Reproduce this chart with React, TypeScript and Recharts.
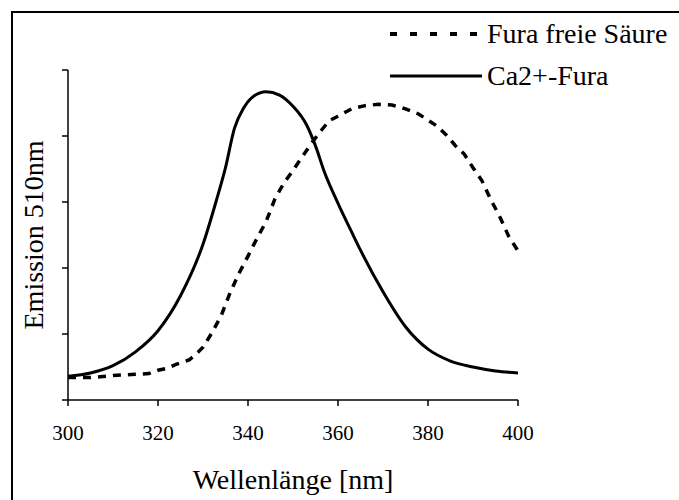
import React from 'react';
import { LineChart, Line, XAxis, YAxis, Legend, Label } from 'recharts';

// Ca2+-bound Fura (solid)
const caWavelengths = [300, 305, 310, 315, 320, 325, 330, 333, 335, 337, 339, 341, 344, 347, 350, 353, 355, 357, 360, 363, 365, 370, 375, 380, 385, 390, 395, 400];
const caEmission = [0.36, 0.41, 0.52, 0.73, 1.05, 1.58, 2.36, 3.03, 3.52, 4.12, 4.42, 4.59, 4.67, 4.62, 4.45, 4.17, 3.85, 3.45, 2.98, 2.55, 2.27, 1.64, 1.11, 0.77, 0.59, 0.5, 0.44, 0.41];

// free acid (dashed)
const freeWavelengths = [300, 305, 310, 315, 318, 320, 322, 324, 327, 329, 330, 332, 334, 336, 338, 340, 342, 344, 346, 348, 350, 352, 354, 356, 358, 360, 363, 366, 369, 372, 375, 378, 380, 382, 384, 386, 388, 390, 392, 394, 396, 398, 400];
const freeEmission = [0.34, 0.34, 0.37, 0.39, 0.4, 0.45, 0.48, 0.54, 0.61, 0.73, 0.8, 1.02, 1.27, 1.62, 1.92, 2.18, 2.45, 2.7, 3.05, 3.29, 3.48, 3.68, 3.88, 4.06, 4.23, 4.3, 4.41, 4.46, 4.48, 4.47, 4.41, 4.33, 4.24, 4.15, 4.02, 3.86, 3.73, 3.52, 3.32, 3.03, 2.77, 2.47, 2.26];

const seriesNames = ['Fura freie Säure', 'Ca2+-Fura'];
const xTicks = [300, 320, 340, 360, 380, 400];
const yTicks = [0, 1, 2, 3, 4, 5];

const caData = caWavelengths.map((nm, i) => ({ nm, value: caEmission[i] }));
const freeData = freeWavelengths.map((nm, i) => ({ nm, value: freeEmission[i] }));

const FONT = '"Liberation Serif", "Times New Roman", serif';

const renderLegend = (props: any) => {
  const items = [...(props.payload || [])].sort(
    (a: any, b: any) => seriesNames.indexOf(a.value) - seriesNames.indexOf(b.value)
  );
  return (
    <svg width={679} height={100} style={{ display: 'block' }}>
      {items.map((item: any, i: number) => {
        const y = 34 + i * 42;
        const dashed = item.value === seriesNames[0];
        return (
          <g key={item.value}>
            <line
              x1={390}
              x2={dashed ? 481 : 482}
              y1={y}
              y2={y}
              stroke="#000"
              strokeWidth={dashed ? 4 : 3}
              strokeDasharray={dashed ? '7 13' : undefined}
            />
            <text x={487} y={y + 9} fontFamily={FONT} fontSize={28} fill="#000">
              {item.value}
            </text>
          </g>
        );
      })}
    </svg>
  );
};

export default function App() {
  return (
    <div style={{ position: 'fixed', left: 0, top: 0, width: 679, height: 500, overflow: 'hidden', background: '#fff' }}>
      <div
        style={{
          position: 'absolute',
          left: 11,
          top: 11,
          width: 700,
          height: 600,
          borderLeft: '2px solid #000',
          borderTop: '2px solid #000',
        }}
      />
      <div style={{ position: 'absolute', left: 0, top: 0 }}>
        <LineChart width={679} height={500} margin={{ top: 70, right: 161, left: 0, bottom: 0 }}>
          <XAxis
            dataKey="nm"
            type="number"
            domain={[300, 400]}
            ticks={xTicks}
            allowDuplicatedCategory={false}
            height={100}
            stroke="#000"
            strokeWidth={1.5}
            tickSize={6}
            tickMargin={19}
            tick={{ fill: '#000', fontSize: 21, fontFamily: FONT }}
          >
            <Label
              value="Wellenlänge [nm]"
              position="insideBottom"
              offset={11}
              style={{ fill: '#000', fontSize: 28, fontFamily: FONT }}
            />
          </XAxis>
          <YAxis
            type="number"
            domain={[0, 5]}
            ticks={yTicks}
            width={68}
            stroke="#000"
            strokeWidth={1.5}
            tickSize={6}
            tickFormatter={() => ''}
          >
            <Label
              content={(p: any) => {
                const vb = p.viewBox || { x: 0, y: 70, width: 68, height: 330 };
                const cx = 43;
                const cy = vb.y + vb.height / 2;
                return (
                  <text
                    x={cx}
                    y={cy}
                    transform={`rotate(-90, ${cx}, ${cy})`}
                    textAnchor="middle"
                    fontFamily={FONT}
                    fontSize={28}
                    fill="#000"
                  >
                    Emission 510nm
                  </text>
                );
              }}
            />
          </YAxis>
          <Legend
            layout="vertical"
            align="center"
            verticalAlign="middle"
            content={renderLegend}
            wrapperStyle={{ position: 'absolute', left: 0, top: 0, width: 679, height: 100 }}
          />
          <Line
            data={freeData}
            dataKey="value"
            name={seriesNames[0]}
            type="linear"
            stroke="#000"
            strokeWidth={3.5}
            strokeDasharray="8 7"
            dot={false}
            isAnimationActive={false}
          />
          <Line
            data={caData}
            dataKey="value"
            name={seriesNames[1]}
            type="monotone"
            stroke="#000"
            strokeWidth={3}
            dot={false}
            isAnimationActive={false}
          />
        </LineChart>
      </div>
    </div>
  );
}
